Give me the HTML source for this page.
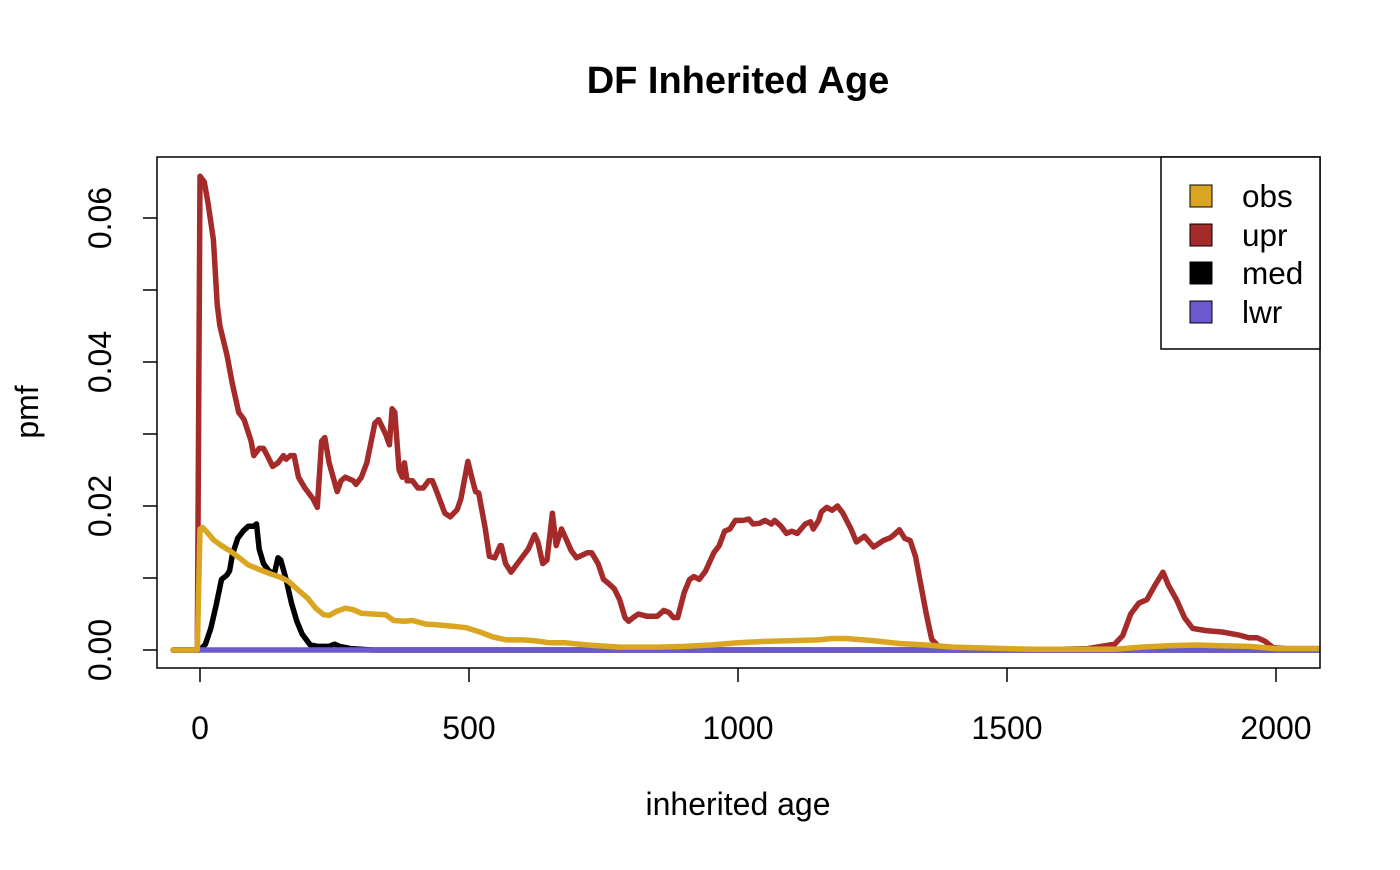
<!DOCTYPE html>
<html><head><meta charset="utf-8"><style>
body{margin:0;background:#fff;}
svg{font-family:"Liberation Sans",Arial,sans-serif;}
</style></head><body>
<svg width="1400" height="865" id="svg">
<text x="738" y="93" text-anchor="middle" font-size="38" font-weight="bold">DF Inherited Age</text>
<text x="738" y="815" text-anchor="middle" font-size="32">inherited age</text>
<text transform="translate(38,412) rotate(-90)" text-anchor="middle" font-size="32">pmf</text>
<defs><clipPath id="clip"><rect x="157" y="157" width="1163" height="511"/></clipPath></defs>
<g id="axes"></g>
<g id="series" clip-path="url(#clip)"></g>
<rect x="157" y="157" width="1163" height="511" fill="none" stroke="#000" stroke-width="1.5"/>
<g>
<rect x="1161" y="157" width="159" height="192" fill="#fff" stroke="#000" stroke-width="1.5"/>
<g><rect x="1190" y="185" width="22" height="22" fill="#DAA520" stroke="#000"/><text x="1242" y="207" font-size="31.5">obs</text></g>
<g><rect x="1190" y="224" width="22" height="22" fill="#A52A2A" stroke="#000"/><text x="1242" y="246" font-size="31.5">upr</text></g>
<g><rect x="1190" y="262" width="22" height="22" fill="#000" stroke="#000"/><text x="1242" y="284" font-size="31.5">med</text></g>
<g><rect x="1190" y="301" width="22" height="22" fill="#6A5ACD" stroke="#000"/><text x="1242" y="323" font-size="31.5">lwr</text></g>
</g>
</svg>
<script>
const xTicks=[0,500,1000,1500,2000];
const yTicks=[0,0.01,0.02,0.03,0.04,0.05,0.06];
const yLabels=["0.00","","0.02","","0.04","","0.06"];
const uprX=[-50,-5,0,8,15,25,32,37,50,60,72,82,95,100,110,118,125,135,145,155,160,168,175,183,195,210,218,226,232,240,255,262,270,285,290,300,310,325,332,345,352,357,362,370,376,380,385,395,405,415,425,432,440,455,465,478,485,498,505,512,518,530,538,548,558,560,568,578,590,600,610,622,628,637,645,655,662,672,680,690,700,720,728,740,750,760,770,780,790,797,805,815,830,850,862,872,880,888,900,910,918,928,940,955,965,975,985,995,1010,1020,1028,1040,1050,1062,1068,1080,1090,1100,1110,1125,1135,1140,1150,1155,1165,1175,1185,1195,1210,1220,1235,1252,1262,1270,1283,1290,1300,1310,1320,1330,1340,1350,1360,1375,1400,1500,1600,1650,1700,1715,1730,1745,1760,1775,1790,1800,1815,1830,1845,1870,1900,1930,1950,1965,1980,1995,2020,2100];
const uprY=[0,0,0.0658,0.065,0.062,0.057,0.048,0.045,0.041,0.037,0.033,0.032,0.029,0.027,0.028,0.028,0.027,0.0255,0.026,0.027,0.0265,0.027,0.027,0.024,0.0225,0.021,0.0198,0.029,0.0295,0.026,0.022,0.0235,0.024,0.0235,0.023,0.024,0.026,0.0315,0.032,0.030,0.0285,0.0335,0.033,0.025,0.024,0.026,0.0235,0.0235,0.0225,0.0225,0.0235,0.0235,0.022,0.019,0.0185,0.0195,0.021,0.0262,0.024,0.022,0.0218,0.017,0.013,0.0128,0.0145,0.0145,0.012,0.0108,0.012,0.013,0.014,0.016,0.015,0.012,0.0125,0.019,0.0145,0.0168,0.0155,0.0138,0.0128,0.0135,0.0135,0.012,0.0098,0.0092,0.0085,0.007,0.0045,0.004,0.0045,0.005,0.0047,0.0047,0.0055,0.0052,0.0045,0.0045,0.008,0.0098,0.0102,0.0098,0.011,0.0135,0.0145,0.0165,0.0168,0.018,0.018,0.0182,0.0175,0.0176,0.018,0.0175,0.018,0.0172,0.0162,0.0165,0.0162,0.0175,0.0178,0.0168,0.018,0.0192,0.0198,0.0194,0.02,0.019,0.0168,0.015,0.0158,0.0143,0.0148,0.0152,0.0156,0.016,0.0167,0.0155,0.0152,0.013,0.009,0.005,0.0015,0.0003,0.0002,0.0001,0.0001,0.0002,0.0008,0.002,0.005,0.0065,0.007,0.009,0.0108,0.009,0.007,0.0045,0.003,0.0027,0.0025,0.0021,0.0017,0.0017,0.0012,0.0003,0.0002,0.0002];
const medX=[-50,0,10,20,30,40,50,55,60,70,80,90,100,105,110,118,128,138,145,150,160,170,180,190,205,220,240,250,260,280,320,2100];
const medY=[0,0,0.0008,0.003,0.0062,0.0098,0.0104,0.011,0.0132,0.0155,0.0165,0.0172,0.0172,0.0175,0.014,0.012,0.011,0.0105,0.0128,0.0125,0.0098,0.0065,0.004,0.0022,0.0007,0.0005,0.0005,0.0008,0.0005,0.0002,0,0];
const obsX=[-50,-5,0,5,15,25,40,55,75,90,110,130,150,165,180,200,215,230,240,255,270,285,300,320,345,360,380,395,420,440,470,495,520,545,570,600,620,650,680,720,780,850,900,950,1000,1050,1100,1150,1175,1200,1250,1300,1350,1400,1500,1550,1700,1750,1800,1850,1900,1950,2000,2100];
const obsY=[0,0,0.0168,0.017,0.0162,0.0153,0.0145,0.0138,0.0127,0.0118,0.0112,0.0106,0.0101,0.0095,0.0085,0.0072,0.0058,0.0049,0.0048,0.0054,0.0058,0.0056,0.0051,0.005,0.0049,0.0041,0.004,0.0041,0.0036,0.0035,0.0033,0.0031,0.0025,0.0018,0.0014,0.0014,0.0013,0.001,0.001,0.0007,0.0004,0.0004,0.0005,0.0007,0.001,0.0012,0.0013,0.0014,0.0016,0.0016,0.0013,0.0009,0.0007,0.0004,0.0002,0.0001,0.0001,0.0004,0.0006,0.0007,0.0006,0.0005,0.0002,0.0002];
const lwrX=[-50,0,2100];
const lwrY=[0,0,0];
const NS="http://www.w3.org/2000/svg";
const sx=v=>200+v*0.538;
const sy=v=>650-v*7200;
const axes=document.getElementById('axes');
function mk(tag,attrs,parent){const e=document.createElementNS(NS,tag);for(const k in attrs)e.setAttribute(k,attrs[k]);parent.appendChild(e);return e;}
xTicks.forEach(t=>{
  const l=mk('line',{x1:sx(t),x2:sx(t),y1:668,y2:682,stroke:'#000','stroke-width':1.5},axes);
  
  
  const tx=mk('text',{x:sx(t),y:739,'text-anchor':'middle','font-size':32},axes);
  tx.textContent=t;
  
  
});
yTicks.forEach((t,i)=>{
  const l=mk('line',{x1:143,x2:157,y1:sy(t),y2:sy(t),stroke:'#000','stroke-width':1.5},axes);
  
  
  if(yLabels[i]){
    const tx=mk('text',{transform:`translate(111,${sy(t)}) rotate(-90)`,'text-anchor':'middle','font-size':32},axes);
    tx.textContent=yLabels[i];
    
    
  }
});
const series=document.getElementById('series');
function line(xs,ys,color,name){
  const d=xs.map((x,i)=>(i?'L':'M')+sx(x).toFixed(1)+','+sy(ys[i]).toFixed(1)).join('');
  const p=mk('path',{d:d,fill:'none',stroke:color,'stroke-width':5.5,'stroke-linejoin':'round','stroke-linecap':'round'},series);
  
  
}
line(uprX,uprY,'#A52A2A','upr-line');
line(medX,medY,'#000000','med-line');
line(lwrX,lwrY,'#6A5ACD','lwr-line');
line(obsX,obsY,'#DAA520','obs-line');
</script>
</body></html>
